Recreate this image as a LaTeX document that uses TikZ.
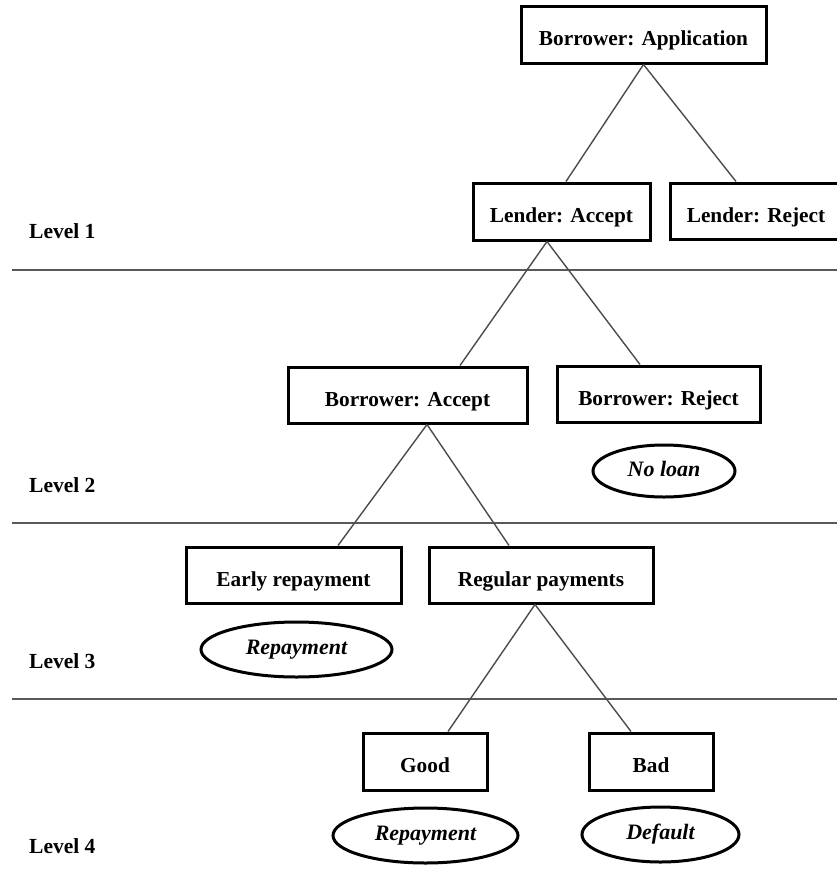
\documentclass[tikz,border=0pt]{standalone}
\usepackage{fontspec}
\setmainfont{Liberation Serif}
\usetikzlibrary{shapes.geometric}
\begin{document}
\begin{tikzpicture}[x=1pt,y=-1pt,
  boxnode/.style={draw=black,line width=3pt,rectangle,inner sep=0pt,
    font=\fontsize{21.3}{24}\selectfont\bfseries,text height=22pt,text depth=0pt},
  ovalnode/.style={draw=black,line width=3pt,ellipse,inner sep=0pt,
    font=\fontsize{22}{25}\selectfont\bfseries\itshape,text height=10pt,text depth=0pt},
  lvl/.style={anchor=base west,inner sep=0pt,font=\fontsize{21.5}{24}\selectfont\bfseries},
  conn/.style={draw=black!70,line width=1.4pt},
  sep/.style={draw=black!65,line width=2pt}]
\useasboundingbox (0,0) rectangle (837,879);
\clip (0,0) rectangle (837,879);
\fill[white] (0,0) rectangle (837,879);

% separators
\coordinate (s1a) at (12,270); \coordinate (s1b) at (837,270);
\coordinate (s2a) at (12,523); \coordinate (s2b) at (837,523);
\coordinate (s3a) at (12,699); \coordinate (s3b) at (837,699);
\draw[sep] (s1a) -- (s1b);
\draw[sep] (s2a) -- (s2b);
\draw[sep] (s3a) -- (s3b);

% level labels
\node[lvl] (l1) at (29,238) {Level 1};
\node[lvl] (l2) at (29,492) {Level 2};
\node[lvl] (l3) at (29,668) {Level 3};
\node[lvl] (l4) at (29,853) {Level 4};

% boxes
\node[boxnode,minimum width=245pt,minimum height=57pt] (ba) at (643.5,34.5) {Borrower: Application};
\node[boxnode,minimum width=177pt,minimum height=57pt] (la) at (561.5,211.5) {Lender: Accept};
\node[boxnode,minimum width=172pt,minimum height=56pt] (lr) at (756,211) {Lender: Reject};
\node[boxnode,minimum width=239pt,minimum height=56pt] (bac) at (407.5,395) {Borrower: Accept};
\node[boxnode,minimum width=203pt,minimum height=56pt] (brj) at (658.5,394) {Borrower: Reject};
\node[boxnode,minimum width=215pt,minimum height=56pt] (er) at (293.5,575) {Early repayment};
\node[boxnode,minimum width=224pt,minimum height=56pt] (rp) at (541,575) {Regular payments};
\node[boxnode,minimum width=124pt,minimum height=57pt] (gd) at (425,761.5) {Good};
\node[boxnode,minimum width=124pt,minimum height=57pt] (bd) at (651,761.5) {Bad};

% outcome ovals
\node[ovalnode,minimum width=142pt,minimum height=52pt] (nl) at (664,471) {No loan};
\node[ovalnode,minimum width=191pt,minimum height=55pt] (rp3) at (296.5,649.5) {Repayment};
\node[ovalnode,minimum width=185pt,minimum height=55pt] (rp4) at (425.5,835.5) {Repayment};
\node[ovalnode,minimum width=157pt,minimum height=55pt] (df) at (660.5,834.5) {Default};

% connectors
\draw[conn] (ba.south) -- ([xshift=4.5pt]la.north);
\draw[conn] (ba.south) -- ([xshift=-20pt]lr.north);
\draw[conn] ([xshift=-14.5pt]la.south) -- ([xshift=52.5pt]bac.north);
\draw[conn] ([xshift=-14.5pt]la.south) -- ([xshift=-18.5pt]brj.north);
\draw[conn] ([xshift=19.5pt]bac.south) -- ([xshift=44.5pt]er.north);
\draw[conn] ([xshift=19.5pt]bac.south) -- ([xshift=-32pt]rp.north);
\draw[conn] ([xshift=-6pt]rp.south) -- ([xshift=23pt]gd.north);
\draw[conn] ([xshift=-6pt]rp.south) -- ([xshift=-20pt]bd.north);
\end{tikzpicture}
\end{document}
